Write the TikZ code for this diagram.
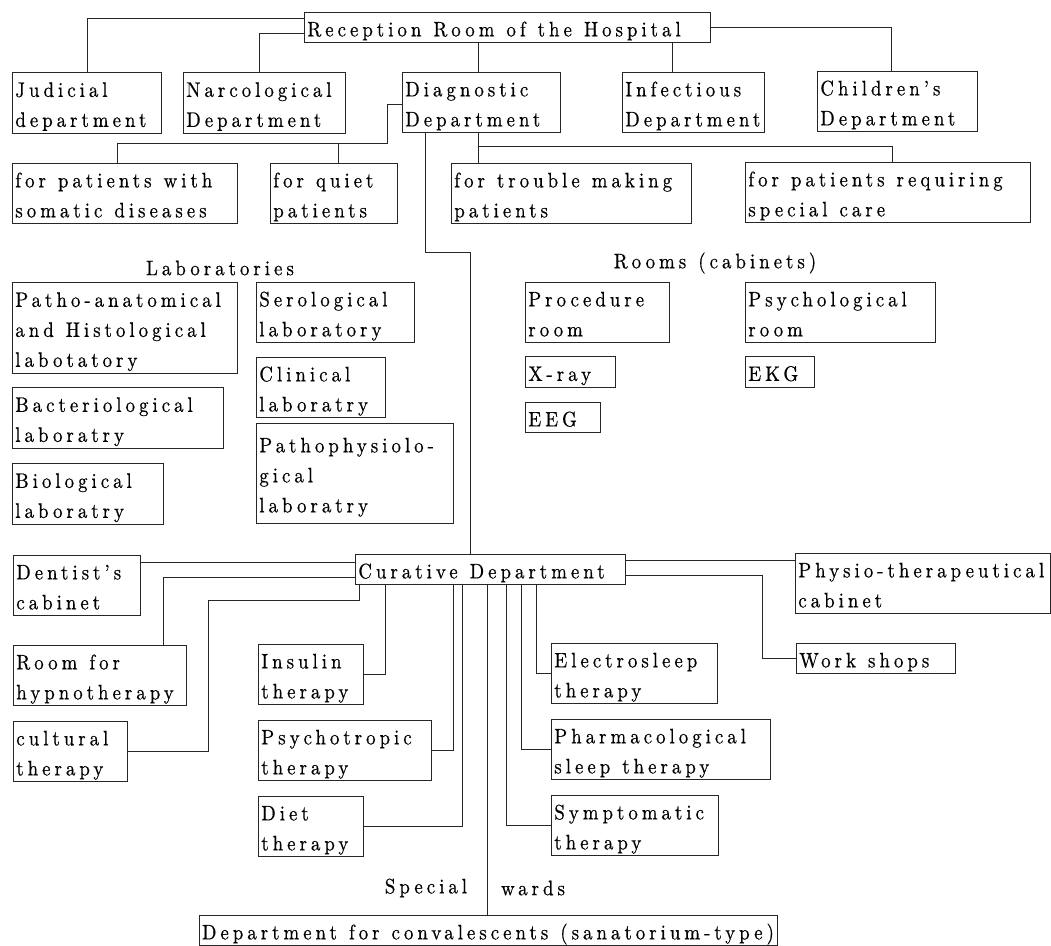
\documentclass[tikz,border=0pt]{standalone}
\usepackage{fontspec}
\setmainfont{lmroman10-regular.otf}[LetterSpace=19,FakeStretch=0.9,FakeBold=0.5]
\newcommand\fsz{\fontsize{21}{30}\selectfont\hyphenpenalty=10000\exhyphenpenalty=10000\spaceskip=12pt plus 1pt minus 1pt\relax}
\newcommand\topstrut{\rule{0pt}{24pt}}
\newcommand\botstrut{\rule[-6pt]{0pt}{6pt}}
\tikzset{
  bx/.style={draw=black!85, line width=0.7pt, inner xsep=3pt, inner ysep=0pt,
    anchor=north west, align=left, font=\fsz,
    execute at begin node={\spaceskip=12pt plus 1pt minus 1pt\relax\topstrut},
    execute at end node=\botstrut},
  ln/.style={draw=black!85, line width=0.7pt},
  lbl/.style={font=\fsz, inner sep=0pt}
}
\newcommand\bbox[6]{%
  \pgfmathsetmacro\bw{#4-#2-6}%
  \pgfmathsetmacro\bh{#5-#3}%
  \node[bx, text width=\bw pt, minimum height=\bh pt] (#1) at (#2,#3) {#6};}
\begin{document}
\begin{tikzpicture}[x=1pt,y=-1pt]
\fill[white] (0,0) rectangle (1051,945);
\useasboundingbox (0,0) rectangle (1051,945);
% top
\bbox{rec}{304}{12}{710}{42}{Reception Room of the Hospital}
\bbox{jud}{12}{72}{161}{133}{Judicial\\department}
\bbox{narc}{183}{72}{345}{133}{Narcological\\Department}
\bbox{diag}{402}{72}{560}{131}{Diagnostic\\Department}
\bbox{inf}{622}{72}{764}{131}{Infectious\\Department}
\bbox{child}{817}{71}{977}{131}{Children's\\Department}
\bbox{som}{12}{163}{237}{222}{for patients with\\somatic diseases}
\bbox{quiet}{270}{163}{397}{222}{for quiet\\patients}
\bbox{trouble}{451}{163}{691}{221}{for trouble making\\patients}
\bbox{care}{745}{162}{1030}{220}{for patients requiring\\special care}
% laboratories
\node[lbl] (labs) at (220,268) {Laboratories};
\bbox{lpa}{12}{282}{237}{373}{Patho-anatomical\\and Histological\\labotatory}
\bbox{lser}{256}{282}{414}{342}{Serological\\laboratory}
\bbox{lcli}{256}{357}{385}{417}{Clinical\\laboratry}
\bbox{lbac}{12}{387}{223}{448}{Bacteriological\\laboratry}
\bbox{lbio}{12}{463}{163}{524}{Biological\\laboratry}
\bbox{lpph}{256}{423}{453}{523}{Pathophysiolo-\\gical\\laboratry}
% rooms
\node[lbl] (rooms) at (715,263) {Rooms (cabinets)};
\bbox{proc}{525}{282}{669}{341}{Procedure\\room}
\bbox{psych}{745}{282}{935}{341}{Psychological\\room}
\bbox{xray}{525}{356}{615}{387}{X-ray}
\bbox{ekg}{745}{356}{814}{387}{EKG}
\bbox{eeg}{525}{402}{600}{432}{EEG}
% curative
\bbox{cur}{355}{554}{625}{583}{Curative Department}
\bbox{dent}{13}{555}{140}{615}{Dentist's\\cabinet}
\bbox{hyp}{13}{645}{186}{705}{Room for\\hypnotherapy}
\bbox{cult}{13}{721}{127}{781}{cultural\\therapy}
\bbox{ins}{258}{644}{363}{704}{Insulin\\therapy}
\bbox{psy}{258}{720}{431}{780}{Psychotropic\\therapy}
\bbox{diet}{258}{796}{363}{856}{Diet\\therapy}
\bbox{elec}{551}{643}{717}{703}{Electrosleep\\therapy}
\bbox{phar}{551}{719}{770}{779}{Pharmacological\\sleep therapy}
\bbox{sym}{551}{795}{718}{855}{Symptomatic\\therapy}
\bbox{phys}{795}{553}{1050}{613}{Physio-therapeutical\\cabinet}
\bbox{work}{796}{643}{955}{673}{Work shops}
\node[lbl] (spec) at (426,888) {Special};
\node[lbl] (wards) at (533,888) {wards};
\node[bx, anchor=north, minimum height=28pt] (conv) at (488,915) {Department for convalescents (sanatorium-type)};
% connectors top
\draw[ln] (rec.west |- 0,18) -| (jud.north);
\draw[ln] (rec.west |- 0,33) -| ([xshift=-5pt]narc.north);
\coordinate (dgt) at ([xshift=-3pt]diag.north);
\draw[ln] (dgt |- rec.south) -- (dgt);
\coordinate (dgb) at ([xshift=-3pt]diag.south);
\draw[ln] (dgb) -- (dgb |- trouble.north);
\draw[ln] (dgb |- 0,146) -| ([xshift=4pt]care.north);
\coordinate (inft) at ([xshift=-21pt]inf.north);
\draw[ln] (inft |- rec.south) -- (inft);
\draw[ln] (rec.east |- 0,27) -| ([xshift=-6pt]child.north);
\coordinate (dl) at (387,143);
\draw[ln] (diag.west |- 0,104) -| (dl) -| ([xshift=-8pt]som.north);
\coordinate (qt) at ([xshift=4pt]quiet.north);
\draw[ln] (qt |- dl) -- (qt);
% long vertical
\coordinate (lv) at ([xshift=23pt]diag.south west);
\draw[ln] (lv) -- ++(0,120) -| ([xshift=-20pt]cur.north);
% curative connectors
\draw[ln] (dent.east |- 0,562) -- (cur.west |- 0,562);
\draw[ln] (cur.west |- 0,577) -| ([xshift=-23pt]hyp.north east);
\coordinate (cz) at ([xshift=4pt]cur.south west);
\coordinate (cb) at (208,600);
\draw[ln] (cult.east) -| (cb) -| (cz);
\draw[ln] (ins.east) -| ([xshift=30pt]cur.south west);
\draw[ln] (psy.east) -| ([xshift=98pt]cur.south west);
\draw[ln] (diet.east) -| ([xshift=107pt]cur.south west);
\draw[ln] (sym.west) -| ([xshift=151pt]cur.south west);
\draw[ln] (phar.west) -| ([xshift=166pt]cur.south west);
\draw[ln] (elec.west) -| ([xshift=181pt]cur.south west);
\coordinate (sw) at ([xshift=132pt]cur.south west);
\draw[ln] (sw) -- (sw |- conv.north);
\draw[ln] (cur.east |- 0,560) -- (phys.west |- 0,560);
\draw[ln] (cur.east |- 0,575) -| ([xshift=-34pt]work.west) -- (work.west);
\end{tikzpicture}
\end{document}
